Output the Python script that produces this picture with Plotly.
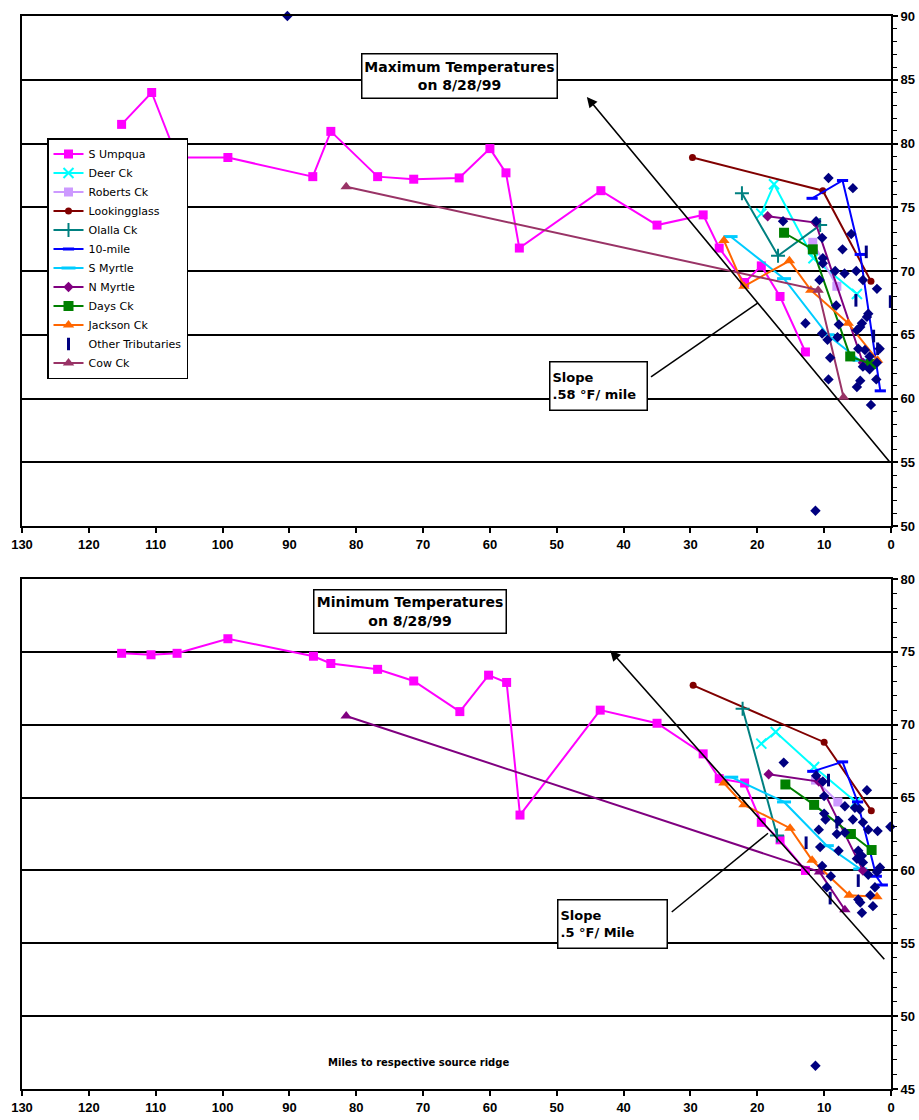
import plotly.graph_objects as go

# ---------------- data: maximum temperatures (top panel) ----------------
umpqua_max_mi = [115.1, 110.6, 106.8, 99.2, 86.5, 83.8, 76.8, 71.4, 64.6, 60.0, 57.6, 55.6,
                 43.4, 35.0, 28.1, 25.7, 21.9, 19.4, 16.6, 12.8]
umpqua_max_t = [81.5, 84.0, 78.9, 78.9, 77.4, 80.95, 77.4, 77.2, 77.3, 79.6, 77.7, 71.8,
                76.3, 73.6, 74.4, 71.8, 69.1, 70.4, 68.0, 63.65]
deer_max_mi = [19.4, 17.5, 11.6, 5.1]
deer_max_t = [74.5, 76.8, 71.0, 68.2]
roberts_max_mi = [11.7, 8.1]
roberts_max_t = [72.25, 68.8]
looking_max_mi = [29.7, 10.2, 3.0]
looking_max_t = [78.9, 76.3, 69.2]
olalla_max_mi = [22.3, 16.9, 10.6]
olalla_max_t = [76.1, 71.2, 73.6]
tenmile_max_mi = [11.8, 7.25, 4.6, 1.6]
tenmile_max_t = [75.7, 77.1, 71.3, 60.6]
smyrtle_max_mi = [24.0, 16.0, 9.5, 4.7]
smyrtle_max_t = [72.7, 69.4, 65.0, 63.0]
nmyrtle_max_mi = [18.45, 11.3, 4.2]
nmyrtle_max_t = [74.3, 73.8, 62.8]
days_max_mi = [16.0, 11.7, 6.1, 3.0]
days_max_t = [73.0, 71.7, 63.3, 62.7]
jackson_max_mi = [25.0, 22.0, 15.2, 12.0, 6.4, 2.0]
jackson_max_t = [72.4, 68.8, 70.8, 68.5, 65.9, 63.0]
other_max_mi = [3.7, 5.25, 0.1, 2.6, 2.0]
other_max_t = [71.5, 67.7, 67.6, 64.9, 63.9]
cow_max_mi = [81.5, 10.9, 7.1]
cow_max_t = [76.6, 68.5, 60.1]
sites_max_mi = [90.3, 11.3, 9.35, 5.7, 16.15, 11.2, 10.3, 5.95, 7.25, 10.2, 10.2, 8.35, 6.95,
                5.2, 4.2, 10.7, 2.1, 8.2, 3.4, 12.8, 7.8, 4.35, 3.6, 5.1, 10.3, 9.5, 8.0, 1.7,
                4.9, 3.9, 9.1, 3.2, 2.1, 4.2, 3.2, 9.35, 4.6, 5.1, 2.2, 3.0, 4.6]
sites_max_t = [90.0, 51.2, 77.3, 76.5, 73.9, 73.9, 72.6, 72.9, 71.7, 71.0, 70.6, 70.0, 69.8,
               70.0, 69.3, 69.3, 68.6, 67.3, 66.65, 65.9, 65.8, 65.9, 66.4, 65.35, 65.1, 64.6,
               64.8, 63.9, 63.9, 63.8, 63.2, 63.3, 62.8, 62.5, 62.3, 61.5, 61.4, 60.9, 61.5,
               59.5, 65.6]

# ---------------- data: minimum temperatures (bottom panel) ----------------
umpqua_min_mi = [115.1, 110.7, 106.8, 99.2, 86.4, 83.8, 76.8, 71.4, 64.5, 60.2, 57.5, 55.5,
                 43.5, 35.0, 28.1, 25.7, 21.9, 19.4, 16.6, 12.8]
umpqua_min_t = [74.9, 74.8, 74.9, 75.9, 74.7, 74.2, 73.8, 73.0, 70.9, 73.4, 72.9, 63.8,
                71.0, 70.1, 68.0, 66.3, 66.0, 63.3, 62.1, 60.0]
deer_min_mi = [19.4, 17.25, 11.5, 5.25]
deer_min_t = [68.7, 69.5, 67.1, 64.7]
roberts_min_mi = [11.3, 7.95]
roberts_min_t = [66.2, 64.7]
looking_min_mi = [29.6, 10.0, 2.95]
looking_min_t = [72.7, 68.8, 64.1]
olalla_min_mi = [22.2, 17.05]
olalla_min_t = [71.1, 62.4]
tenmile_min_mi = [11.7, 7.25, 5.0, 2.2, 1.3]
tenmile_min_t = [66.8, 67.45, 64.7, 59.6, 59.0]
smyrtle_min_mi = [23.9, 16.0, 9.6, 4.6]
smyrtle_min_t = [66.4, 64.7, 61.7, 60.1]
nmyrtle_min_mi = [18.3, 10.8, 4.2]
nmyrtle_min_t = [66.6, 66.1, 60.0]
days_min_mi = [15.8, 11.5, 6.0, 2.9]
days_min_t = [65.9, 64.5, 62.5, 61.4]
jackson_min_mi = [25.0, 22.0, 15.1, 11.8, 6.25, 2.1]
jackson_min_t = [66.0, 64.5, 62.9, 60.7, 58.3, 58.2]
other_min_mi = [9.35, 12.7, 8.1, 4.9, 9.1]
other_min_t = [66.2, 61.9, 63.3, 59.3, 58.1]
cow_min_mi = [81.5, 10.7, 6.9]
cow_min_t = [70.6, 59.9, 57.3]
sites_min_mi = [16.05, 11.2, 10.2, 3.6, 10.0, 6.9, 5.4, 4.7, 10.0, 9.8, 5.7, 4.2, 7.85, 10.8,
                3.4, 2.0, 0.1, 8.1, 6.9, 10.6, 7.85, 4.9, 4.35, 5.1, 4.2, 1.65, 10.3, 2.1, 3.4,
                9.0, 9.6, 2.4, 3.1, 4.9, 4.6, 2.7, 4.35, 11.3]
sites_min_t = [67.4, 66.5, 66.1, 65.5, 65.1, 64.4, 64.3, 64.2, 63.9, 63.5, 63.5, 63.3, 63.4,
               62.8, 62.8, 62.7, 63.0, 62.5, 62.6, 61.6, 61.35, 61.35, 61.0, 60.8, 60.55, 60.2,
               60.3, 59.9, 59.7, 59.6, 58.85, 58.85, 58.3, 58.0, 57.8, 57.55, 57.1, 46.6]

x_ticks = list(range(0, 131, 10))
max_ticks = list(range(50, 91, 5))
min_ticks = list(range(45, 81, 5))

# ---------------- series styles ----------------
styles = {
    "S Umpqua": dict(color="#FF00FF", symbol="square", size=9),
    "Deer Ck": dict(color="#00FFFF", symbol="x-thin", size=10),
    "Roberts Ck": dict(color="#CC99FF", symbol="square", size=9),
    "Lookingglass": dict(color="#800000", symbol="circle", size=7),
    "Olalla Ck": dict(color="#008080", symbol="cross-thin", size=10),
    "10-mile": dict(color="#0000FF", symbol="line-ew", size=8),
    "S Myrtle": dict(color="#00CCFF", symbol="line-ew", size=10),
    "N Myrtle": dict(color="#800080", symbol="diamond", size=8),
    "Days Ck": dict(color="#008000", symbol="square", size=10),
    "Jackson Ck": dict(color="#FF6600", symbol="triangle-up", size=10),
    "Other Tributaries": dict(color="#000080", symbol="line-ns", size=9),
    "Cow Ck": dict(color="#993366", symbol="triangle-up", size=10),
}

max_series = [
    ("S Umpqua", umpqua_max_mi, umpqua_max_t),
    ("Deer Ck", deer_max_mi, deer_max_t),
    ("Roberts Ck", roberts_max_mi, roberts_max_t),
    ("Lookingglass", looking_max_mi, looking_max_t),
    ("Olalla Ck", olalla_max_mi, olalla_max_t),
    ("10-mile", tenmile_max_mi, tenmile_max_t),
    ("S Myrtle", smyrtle_max_mi, smyrtle_max_t),
    ("N Myrtle", nmyrtle_max_mi, nmyrtle_max_t),
    ("Days Ck", days_max_mi, days_max_t),
    ("Jackson Ck", jackson_max_mi, jackson_max_t),
    ("Other Tributaries", other_max_mi, other_max_t),
    ("Cow Ck", cow_max_mi, cow_max_t),
]
min_series = [
    ("S Umpqua", umpqua_min_mi, umpqua_min_t),
    ("Deer Ck", deer_min_mi, deer_min_t),
    ("Roberts Ck", roberts_min_mi, roberts_min_t),
    ("Lookingglass", looking_min_mi, looking_min_t),
    ("Olalla Ck", olalla_min_mi, olalla_min_t),
    ("10-mile", tenmile_min_mi, tenmile_min_t),
    ("S Myrtle", smyrtle_min_mi, smyrtle_min_t),
    ("N Myrtle", nmyrtle_min_mi, nmyrtle_min_t),
    ("Days Ck", days_min_mi, days_min_t),
    ("Jackson Ck", jackson_min_mi, jackson_min_t),
    ("Other Tributaries", other_min_mi, other_min_t),
    ("Cow Ck", cow_min_mi, cow_min_t),
]


def make_trace(name, xs, ys, xref, yref, legend, color_override=None):
    st = styles[name]
    color = color_override or st["color"]
    line_only = st["symbol"] in ("x-thin", "cross-thin", "line-ew", "line-ns")
    marker = dict(symbol=st["symbol"], size=st["size"], color=color,
                  line=dict(width=(3 if st["symbol"].startswith("line") else 2) if line_only else 0,
                            color=color))
    mode = "markers" if name == "Other Tributaries" else "lines+markers"
    return go.Scatter(x=xs, y=ys, name=name, mode=mode, marker=marker,
                      line=dict(color=color, width=2), xaxis=xref, yaxis=yref,
                      showlegend=legend, legendgroup=name, cliponaxis=False)


fig = go.Figure()
for name, xs, ys in max_series:
    fig.add_trace(make_trace(name, xs, ys, "x", "y", True))
fig.add_trace(go.Scatter(x=sites_max_mi, y=sites_max_t, name="Tributary sites", mode="markers",
                         marker=dict(symbol="diamond", size=8, color="#000080"),
                         xaxis="x", yaxis="y", showlegend=False, cliponaxis=False))
for name, xs, ys in min_series:
    override = "#800080" if name == "Cow Ck" else None
    fig.add_trace(make_trace(name, xs, ys, "x2", "y2", False, override))
fig.add_trace(go.Scatter(x=sites_min_mi, y=sites_min_t, name="Tributary sites", mode="markers",
                         marker=dict(symbol="diamond", size=8, color="#000080"),
                         xaxis="x2", yaxis="y2", showlegend=False, cliponaxis=False))

W, H = 919, 1120
tick_font = dict(family="Liberation Sans Narrow, Arial Narrow, Liberation Sans, sans-serif",
                 size=13, color="black", weight="bold")


def xaxis_cfg(domain_y_anchor):
    return dict(range=[130, 0], domain=[22 / W, 891 / W], anchor=domain_y_anchor,
                tickvals=x_ticks, ticks="outside", ticklen=5, tickwidth=1.5, tickcolor="black",
                showline=True, linecolor="black", linewidth=2, mirror=True, showgrid=False,
                zeroline=False, tickfont=tick_font, automargin=False)


def yaxis_cfg(rng, tickv, top_px, bot_px, anchor):
    return dict(range=rng, domain=[1 - bot_px / H, 1 - top_px / H], anchor=anchor, side="right",
                tickvals=tickv, ticks="outside", ticklen=5, tickwidth=1.5, tickcolor="black",
                showline=True, linecolor="black", linewidth=2, mirror=True,
                showgrid=True, gridcolor="black", gridwidth=1.5, zeroline=False,
                tickfont=tick_font, automargin=False,
                minor=dict(dtick=1, ticks="outside", ticklen=4, tickwidth=1.2,
                           tickcolor="black", showgrid=False))


fig.update_layout(
    width=W, height=H, margin=dict(l=0, r=0, t=0, b=0, autoexpand=False),
    paper_bgcolor="white", plot_bgcolor="white",
    xaxis=xaxis_cfg("y"),
    yaxis=yaxis_cfg([50, 90], max_ticks, 16, 526, "x"),
    xaxis2=xaxis_cfg("y2"),
    yaxis2=yaxis_cfg([45, 80], min_ticks, 579, 1089, "x2"),
    legend=dict(x=47 / W, y=1 - 138 / H, xanchor="left", yanchor="top",
                bgcolor="white", bordercolor="black", borderwidth=1.5,
                font=dict(family="DejaVu Sans, Verdana, sans-serif", size=11, color="black"),
                tracegroupgap=0, itemwidth=30),
)

box_font = dict(family="DejaVu Sans, Verdana, sans-serif", size=14, color="black", weight="bold")
slope_font = dict(family="DejaVu Sans, Verdana, sans-serif", size=13, color="black", weight="bold")


def paper_note(text, px, py, font, **kw):
    return dict(text=text, xref="paper", yref="paper", x=px / W, y=1 - py / H,
                xanchor="center", yanchor="middle", showarrow=False, font=font, **kw)


annotations = [
    paper_note("Maximum Temperatures<br>on 8/28/99", 459.5, 75.5, box_font, align="center",
               bgcolor="white", bordercolor="black", borderwidth=1.5, borderpad=1,
               width=192, height=41),
    paper_note("Minimum Temperatures<br>on 8/28/99", 410, 611.5, box_font, align="center",
               bgcolor="white", bordercolor="black", borderwidth=1.5, borderpad=1,
               width=189, height=40),
    paper_note("Slope<br>.58 °F/ mile", 598.5, 386, slope_font, align="left",
               bgcolor="white", bordercolor="black", borderwidth=1.5, borderpad=2,
               width=92, height=43),
    paper_note("Slope<br>.5 °F/ Mile", 612.5, 924, slope_font, align="left",
               bgcolor="white", bordercolor="black", borderwidth=1.5, borderpad=2,
               width=104, height=43),
    paper_note("Miles to respective source ridge", 418, 1062,
               dict(family="DejaVu Sans, Verdana, sans-serif", size=10, color="black",
                    weight="bold")),
    # slope lines with arrowheads
    dict(text="", x=45.5, y=83.65, xref="x", yref="y", ax=0, ay=54.9, axref="x", ayref="y",
         showarrow=True, arrowhead=2, arrowsize=1.3, arrowwidth=1.6, arrowcolor="black"),
    dict(text="", x=42.0, y=75.1, xref="x2", yref="y2", ax=0.8, ay=53.8, axref="x2", ayref="y2",
         showarrow=True, arrowhead=2, arrowsize=1.3, arrowwidth=1.6, arrowcolor="black"),
]
fig.update_layout(annotations=annotations)

# pointer lines from the slope boxes to the slope lines
fig.add_shape(type="line", xref="x", yref="y", x0=35.9, y0=61.7, x1=19.9, y1=67.5,
              line=dict(color="black", width=1.5))
fig.add_shape(type="line", xref="x2", yref="y2", x0=32.8, y0=57.15, x1=18.4, y1=62.55,
              line=dict(color="black", width=1.5))

fig.write_html("out.html")
